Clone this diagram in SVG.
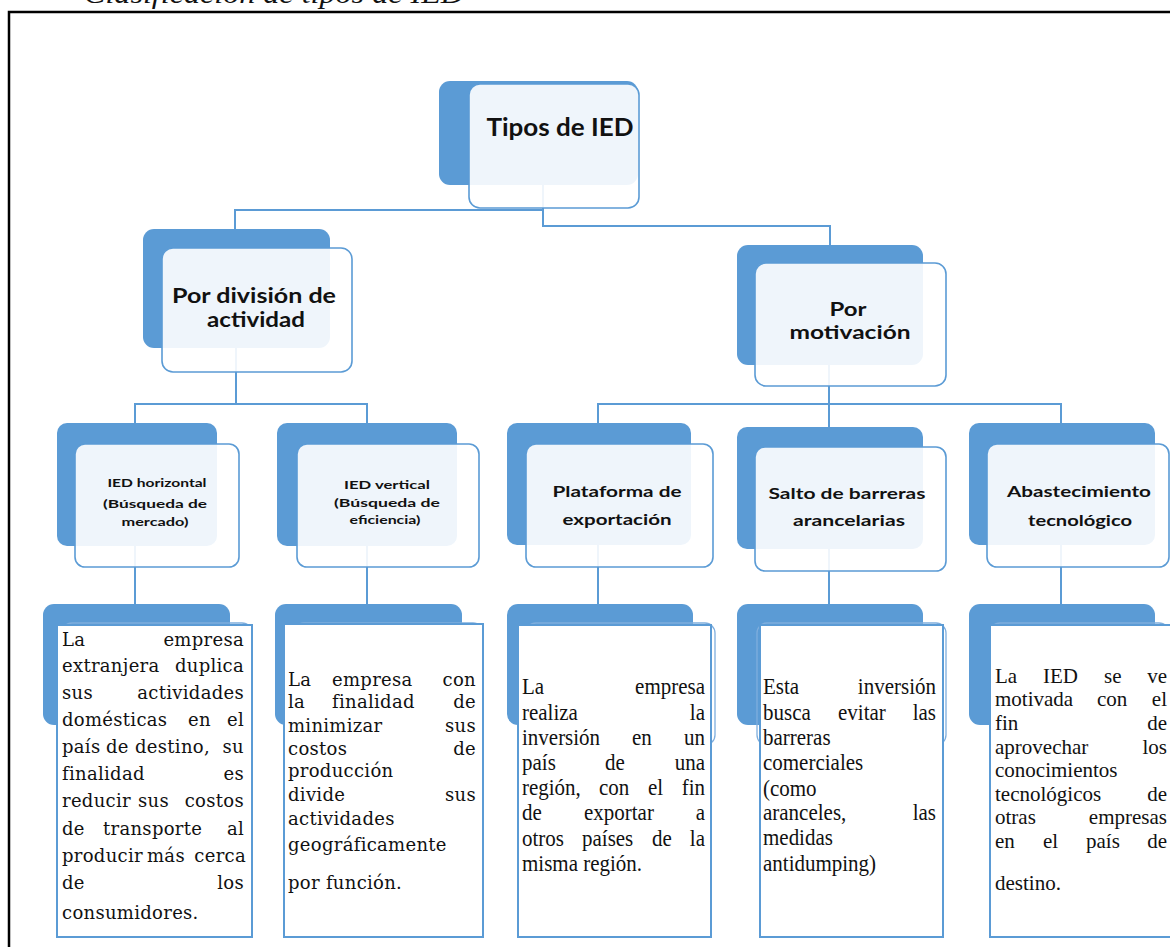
<svg xmlns="http://www.w3.org/2000/svg" width="1170" height="947" viewBox="0 0 1170 947">
<style>
.dark{fill:#5B9BD5;}
.front{fill:#ffffff;fill-opacity:0.9;stroke:#5B9BD5;stroke-width:1.6;}
.sa{fill:none;stroke:#7FAEDD;stroke-width:1.3;}
.tb{fill:#ffffff;stroke:#5B9BD5;stroke-width:2;}
.lbl{font-family:Lato,"Open Sans","Liberation Sans",sans-serif;font-weight:bold;fill:#111;text-anchor:middle;}
.l1{font-size:24px;}
.l2{font-size:20px;}
.l2b{font-size:19px;}
.l3{font-size:15px;}
.l3s{font-size:11.5px;}
.body{font-family:"Liberation Serif","Times New Roman",serif;font-size:21px;fill:#111;}
.bodyc{font-family:"DejaVu Serif","Liberation Serif",serif;font-size:18px;letter-spacing:0.3px;fill:#111;}
.end{text-anchor:end;}
.conn{fill:none;stroke:#5B9BD5;stroke-width:2;}
</style>

<text x="84" y="3" textLength="380" lengthAdjust="spacingAndGlyphs" style="font-family:'Liberation Serif',serif;font-style:italic;font-size:28px;fill:#111;">Clasificación de tipos de IED</text>
<path d="M9 948 V12 H1172" fill="none" stroke="#000" stroke-width="2.5"/>

<g id="connectors">
<path class="conn" d="M543 185 V210 H235 V229"/>
<path class="conn" d="M543 185 V226 H830 V245"/>
<path class="conn" d="M236 348 V404 H135 V423"/>
<path class="conn" d="M236 404 H367 V423"/>
<path class="conn" d="M829 365 V427"/>
<path class="conn" d="M598 423 V404 H1061 V423"/>
<path class="conn" d="M135 546 V604"/>
<path class="conn" d="M367 546 V604"/>
<path class="conn" d="M598 545 V604"/>
<path class="conn" d="M829 549 V604"/>
<path class="conn" d="M1061 545 V604"/>
</g>

<g id="n-tipos">
<rect class="dark" x="439" y="81" width="199" height="104" rx="11"/>
<rect class="front" x="469" y="84" width="170" height="124" rx="11"/>
<text class="lbl l1" x="560" y="136" textLength="147" lengthAdjust="spacingAndGlyphs">Tipos de IED</text>
</g>

<g id="n-division">
<rect class="dark" x="143" y="229" width="187" height="119" rx="11"/>
<rect class="front" x="162" y="248" width="190" height="124" rx="11"/>
<text class="lbl l2" x="254" y="303" textLength="164" lengthAdjust="spacingAndGlyphs">Por división de</text>
<text class="lbl l2" x="256" y="327" textLength="98" lengthAdjust="spacingAndGlyphs">actividad</text>
</g>

<g id="n-motivacion">
<rect class="dark" x="737" y="245" width="186" height="120" rx="11"/>
<rect class="front" x="755" y="263" width="191" height="123" rx="11"/>
<text class="lbl l2b" x="848" y="316" textLength="37" lengthAdjust="spacingAndGlyphs">Por</text>
<text class="lbl l2b" x="850" y="339" textLength="121" lengthAdjust="spacingAndGlyphs">motivación</text>
</g>

<g id="n-horizontal">
<rect class="dark" x="57" y="423" width="160" height="123" rx="10"/>
<rect class="front" x="75" y="444" width="164" height="123" rx="10"/>
<text class="lbl l3s" x="157" y="487" textLength="99" lengthAdjust="spacingAndGlyphs">IED horizontal</text>
<text class="lbl l3s" x="155" y="508" textLength="104" lengthAdjust="spacingAndGlyphs">(Búsqueda de</text>
<text class="lbl l3s" x="155" y="526" textLength="67" lengthAdjust="spacingAndGlyphs">mercado)</text>
</g>

<g id="n-vertical">
<rect class="dark" x="277" y="423" width="180" height="123" rx="10"/>
<rect class="front" x="297" y="444" width="182" height="123" rx="10"/>
<text class="lbl l3s" x="387" y="489" textLength="86" lengthAdjust="spacingAndGlyphs">IED vertical</text>
<text class="lbl l3s" x="387" y="507" textLength="106" lengthAdjust="spacingAndGlyphs">(Búsqueda de</text>
<text class="lbl l3s" x="385" y="524" textLength="71" lengthAdjust="spacingAndGlyphs">eficiencia)</text>
</g>

<g id="n-plataforma">
<rect class="dark" x="507" y="423" width="184" height="122" rx="10"/>
<rect class="front" x="526" y="444" width="187" height="123" rx="10"/>
<text class="lbl l3" x="617" y="497" textLength="129" lengthAdjust="spacingAndGlyphs">Plataforma de</text>
<text class="lbl l3" x="617" y="525" textLength="109" lengthAdjust="spacingAndGlyphs">exportación</text>
</g>

<g id="n-salto">
<rect class="dark" x="737" y="427" width="186" height="122" rx="10"/>
<rect class="front" x="755" y="447" width="191" height="124" rx="10"/>
<text class="lbl l3" x="847" y="499" textLength="157" lengthAdjust="spacingAndGlyphs">Salto de barreras</text>
<text class="lbl l3" x="849" y="526" textLength="112" lengthAdjust="spacingAndGlyphs">arancelarias</text>
</g>

<g id="n-abastecimiento">
<rect class="dark" x="969" y="423" width="186" height="122" rx="10"/>
<rect class="front" x="987" y="444" width="182" height="123" rx="10"/>
<text class="lbl l3" x="1079" y="497" textLength="144" lengthAdjust="spacingAndGlyphs">Abastecimiento</text>
<text class="lbl l3" x="1080" y="526" textLength="104" lengthAdjust="spacingAndGlyphs">tecnológico</text>
</g>

<g id="t-horizontal">
<rect class="dark" x="43" y="604" width="187" height="121" rx="11"/>
<rect class="sa" x="62" y="623" width="190" height="122" rx="10"/>
<rect class="tb" x="57" y="625" width="195" height="312"/>
<g class="bodyc">
<text x="62" y="646">La</text><text class="end" x="244" y="646">empresa</text>
<text x="62" y="672">extranjera</text><text class="end" x="244" y="672">duplica</text>
<text x="62" y="699">sus</text><text class="end" x="244" y="699">actividades</text>
<text x="62" y="726">domésticas</text><text x="188" y="726">en</text><text class="end" x="244" y="726">el</text>
<text x="62" y="753">país</text><text x="106" y="753">de</text><text x="135" y="753">destino,</text><text class="end" x="244" y="753">su</text>
<text x="62" y="780">finalidad</text><text class="end" x="244" y="780">es</text>
<text x="62" y="807">reducir</text><text x="138" y="807">sus</text><text class="end" x="244" y="807">costos</text>
<text x="62" y="835">de</text><text x="103" y="835">transporte</text><text class="end" x="244" y="835">al</text>
<text x="62" y="862">producir</text><text x="147" y="862">más</text><text class="end" x="246" y="862">cerca</text>
<text x="62" y="889">de</text><text class="end" x="244" y="889">los</text>
<text x="62" y="919">consumidores.</text>
</g>
</g>

<g id="t-vertical">
<rect class="dark" x="275" y="604" width="187" height="121" rx="11"/>
<rect class="sa" x="294" y="623" width="189" height="122" rx="10"/>
<rect class="tb" x="284" y="624" width="199" height="313"/>
<g class="bodyc">
<text x="288" y="686">La</text><text x="332" y="686">empresa</text><text class="end" x="476" y="686">con</text>
<text x="288" y="708">la</text><text x="332" y="708">finalidad</text><text class="end" x="476" y="708">de</text>
<text x="288" y="732">minimizar</text><text class="end" x="476" y="732">sus</text>
<text x="288" y="755">costos</text><text class="end" x="476" y="755">de</text>
<text x="288" y="777">producción</text>
<text x="288" y="801">divide</text><text class="end" x="476" y="801">sus</text>
<text x="288" y="825">actividades</text>
<text x="288" y="851">geográficamente</text>
<text x="288" y="889">por función.</text>
</g>
</g>

<g id="t-plataforma">
<rect class="dark" x="507" y="604" width="186" height="121" rx="11"/>
<rect class="sa" x="526" y="623" width="189" height="122" rx="10"/>
<rect class="tb" x="518" y="625" width="193" height="312"/>
<g class="body" transform="matrix(1 0 0 1.12 0 -93.6)">
<text x="522" y="703.2">La</text><text class="end" x="705" y="703.2">empresa</text>
<text x="522" y="726.4">realiza</text><text class="end" x="705" y="726.4">la</text>
<text x="522" y="748.8">inversión</text><text x="632" y="748.8">en</text><text class="end" x="705" y="748.8">un</text>
<text x="522" y="771.1">país</text><text x="605" y="771.1">de</text><text class="end" x="705" y="771.1">una</text>
<text x="522" y="793.4">región,</text><text x="599" y="793.4">con</text><text x="648" y="793.4">el</text><text class="end" x="705" y="793.4">fin</text>
<text x="522" y="815.7">de</text><text x="584" y="815.7">exportar</text><text class="end" x="705" y="815.7">a</text>
<text x="522" y="838.9">otros</text><text x="582" y="838.9">países</text><text x="652" y="838.9">de</text><text class="end" x="705" y="838.9">la</text>
<text x="522" y="861.25">misma región.</text>
</g>
</g>

<g id="t-salto">
<rect class="dark" x="737" y="604" width="186" height="121" rx="11"/>
<rect class="sa" x="757" y="623" width="189" height="122" rx="10"/>
<rect class="tb" x="760" y="625" width="183" height="312"/>
<g class="body" transform="matrix(1 0 0 1.12 0 -93.6)">
<text x="763" y="703.2">Esta</text><text class="end" x="936" y="703.2">inversión</text>
<text x="763" y="726.4">busca</text><text x="838" y="726.4">evitar</text><text class="end" x="936" y="726.4">las</text>
<text x="763" y="748.8">barreras</text>
<text x="763" y="771.1">comerciales</text>
<text x="763" y="794.3">(como</text>
<text x="763" y="815.7">aranceles,</text><text class="end" x="936" y="815.7">las</text>
<text x="763" y="838">medidas</text>
<text x="763" y="861.25">antidumping)</text>
</g>
</g>

<g id="t-abastecimiento">
<rect class="dark" x="969" y="604" width="186" height="121" rx="11"/>
<rect class="sa" x="990" y="623" width="179" height="122" rx="10"/>
<rect class="tb" x="990" y="625" width="195" height="312"/>
<g class="body">
<text x="995" y="683">La</text><text x="1043" y="683">IED</text><text x="1104" y="683">se</text><text class="end" x="1167" y="683">ve</text>
<text x="995" y="706">motivada</text><text x="1097" y="706">con</text><text class="end" x="1167" y="706">el</text>
<text x="995" y="730">fin</text><text class="end" x="1167" y="730">de</text>
<text x="995" y="754">aprovechar</text><text class="end" x="1167" y="754">los</text>
<text x="995" y="777">conocimientos</text>
<text x="995" y="801">tecnológicos</text><text class="end" x="1167" y="801">de</text>
<text x="995" y="824">otras</text><text class="end" x="1167" y="824">empresas</text>
<text x="995" y="848">en</text><text x="1043" y="848">el</text><text x="1086" y="848">país</text><text class="end" x="1167" y="848">de</text>
<text x="995" y="890">destino.</text>
</g>
</g>
</svg>
